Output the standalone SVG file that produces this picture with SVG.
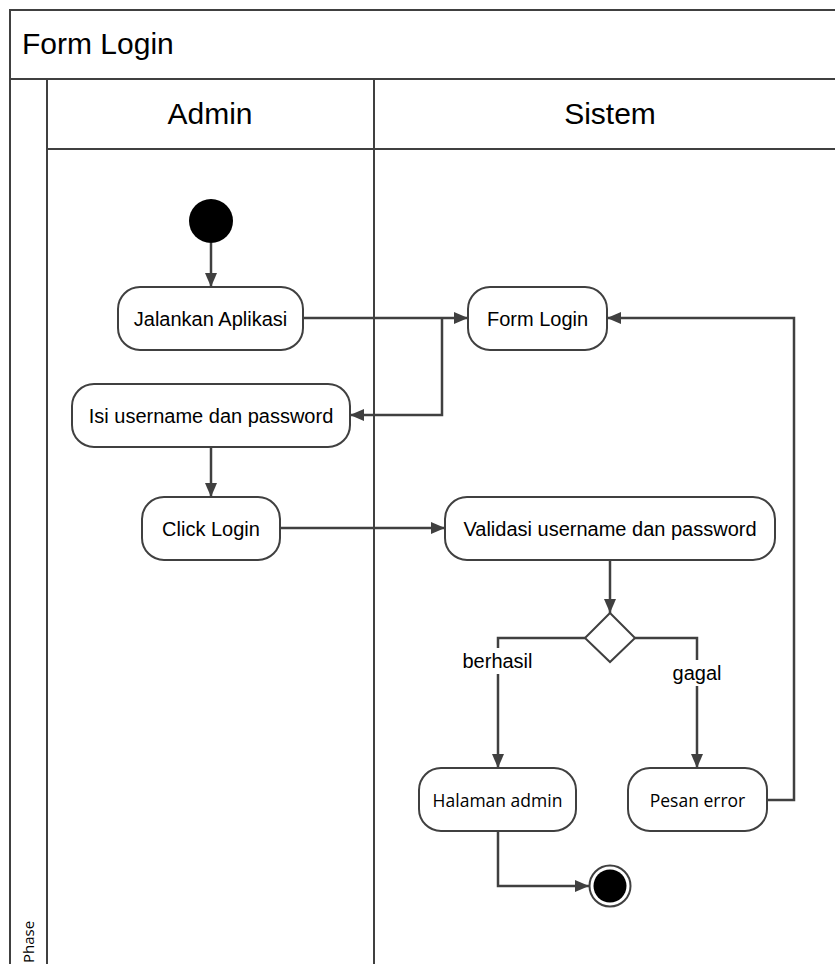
<svg xmlns="http://www.w3.org/2000/svg" width="835" height="964" viewBox="0 0 835 964">
<defs>
<style>
.frame{fill:none;stroke:#404040;stroke-width:2}
.node{fill:#fff;stroke:#404040;stroke-width:2}
.edge{fill:none;stroke:#404040;stroke-width:2.5}
.t{font-family:"Liberation Sans",Arial,sans-serif;font-size:20px;fill:#000;text-anchor:middle;dominant-baseline:central}
.t2{font-family:"Open Sans","Noto Sans",sans-serif;font-size:17.5px;fill:#000;text-anchor:middle;dominant-baseline:central}
.h{font-family:"Liberation Sans",Arial,sans-serif;font-size:30px;fill:#000}
.lane{font-family:"Liberation Sans",Arial,sans-serif;font-size:30px;fill:#000;text-anchor:middle}
</style>
<marker id="arr" viewBox="0 0 14 12" refX="14" refY="6" markerWidth="14" markerHeight="12" markerUnits="userSpaceOnUse" orient="auto">
<path d="M0,0 L14,6 L0,12 Z" fill="#404040"/>
</marker>
</defs>
<rect width="835" height="964" fill="#fff"/>
<g id="pool">
<path class="frame" d="M10,964 V10 H835 M10,79 H835 M47,79 V964 M374,79 V964 M47,149 H835"/>
<text class="h" x="22" y="54">Form Login</text>
<text class="lane" x="210" y="124">Admin</text>
<text class="lane" x="610" y="124">Sistem</text>
<text x="34" y="963" font-family="'Open Sans','Noto Sans',sans-serif" font-size="15" fill="#000" transform="rotate(-90 34 963)">Phase</text>
</g>
<g id="edges">
<path class="edge" d="M211,243 V287" marker-end="url(#arr)"/>
<path class="edge" d="M303,318 H468" marker-end="url(#arr)"/>
<path class="edge" d="M442,318 V415 H350" marker-end="url(#arr)"/>
<path class="edge" d="M211,447 V497" marker-end="url(#arr)"/>
<path class="edge" d="M280,528 H445" marker-end="url(#arr)"/>
<path class="edge" d="M610,560 V613" marker-end="url(#arr)"/>
<path class="edge" d="M585,638 H498 V768" marker-end="url(#arr)"/>
<path class="edge" d="M635,638 H697 V768" marker-end="url(#arr)"/>
<path class="edge" d="M767,800 H794 V318 H607" marker-end="url(#arr)"/>
<path class="edge" d="M498,831 V886 H589" marker-end="url(#arr)"/>
<rect x="458" y="648" width="80" height="26" fill="#fff"/>
<text class="t" x="497.5" y="661">berhasil</text>
<rect x="670" y="660" width="54" height="26" fill="#fff"/>
<text class="t" x="697" y="673">gagal</text>
</g>
<g id="start"><circle cx="211" cy="221" r="22" fill="#000"/></g>
<g id="jalankan"><rect class="node" x="118" y="287" width="185" height="63" rx="22"/><text class="t" x="210.5" y="318.5">Jalankan Aplikasi</text></g>
<g id="isi"><rect class="node" x="72" y="384" width="278" height="63" rx="22"/><text class="t" x="211" y="415.5">Isi username dan password</text></g>
<g id="click"><rect class="node" x="142" y="497" width="138" height="63" rx="22"/><text class="t" x="211" y="528.5">Click Login</text></g>
<g id="formlogin"><rect class="node" x="468" y="287" width="139" height="63" rx="22"/><text class="t" x="537.5" y="318.5">Form Login</text></g>
<g id="validasi"><rect class="node" x="445" y="497" width="330" height="63" rx="22"/><text class="t" x="610" y="528.5">Validasi username dan password</text></g>
<g id="decision"><path class="node" d="M610,613 L635,638 L610,662 L585,638 Z"/></g>
<g id="halaman"><rect class="node" x="419" y="768" width="157" height="63" rx="22"/><text class="t2" x="497.5" y="800">Halaman admin</text></g>
<g id="pesan"><rect class="node" x="628" y="768" width="139" height="63" rx="22"/><text class="t2" x="697.5" y="800">Pesan error</text></g>
<g id="end"><circle cx="610" cy="886" r="20.5" fill="#fff" stroke="#404040" stroke-width="2"/><circle cx="610" cy="886" r="16.5" fill="#000"/></g>
</svg>
